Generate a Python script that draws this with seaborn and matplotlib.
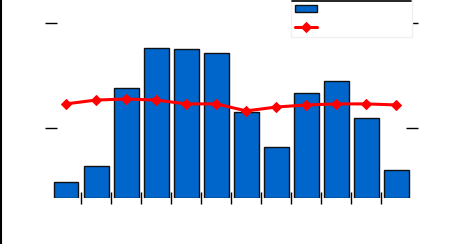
import numpy as np
import pandas as pd
import matplotlib
matplotlib.use("Agg")
import matplotlib.pyplot as plt
import seaborn as sns
from matplotlib.lines import Line2D

months = ["Jan", "Feb", "Mar", "Apr", "May", "Jun",
          "Jul", "Aug", "Sep", "Oct", "Nov", "Dec"]
rainfall = [23, 46, 157, 214, 213, 207, 123, 73, 150, 167, 114, 40]
temperature = [26.9, 28.0, 28.3, 28.0, 26.9, 26.9, 24.9, 26.0, 26.6, 26.9, 26.9, 26.6]
left_ticks = [100, 250]
right_ticks = [20, 50]

sns.set_theme(style="white")
plt.rcParams["font.family"] = ["DejaVu Sans"]

df = pd.DataFrame({"month": months, "rainfall": rainfall,
                   "temperature": temperature, "pos": np.arange(len(months))})

fig = plt.figure(figsize=(4.6, 2.44), dpi=100)
ax = fig.add_axes([51 / 460, 46 / 244, 360.5 / 460, 198 / 244])

sns.barplot(data=df, x="month", y="rainfall", color="#0066cc", saturation=1,
            width=0.83, edgecolor="#111111", linewidth=1, ax=ax,
            label="Rainfall (mm)")
ax.set_xlim(-0.5, 11.5)
ax.set_ylim(0, 283)
if ax.get_legend() is not None:
    ax.get_legend().remove()

ax2 = ax.twinx()
sns.lineplot(data=df, x="pos", y="temperature", color="#ff0000", linewidth=2.2,
             marker="D", markersize=5.5, markeredgecolor="#ff0000", ax=ax2,
             label="Temperature (°C)", legend=False)
ax2.set_ylim(0, 283 / 5)
ax2.set_xlim(-0.5, 11.5)
if ax2.get_legend() is not None:
    ax2.get_legend().remove()

white = "white"
for a in (ax, ax2):
    for s in a.spines.values():
        s.set_visible(False)
    a.grid(False)

# category separators as major ticks, month names as minor labels
ax.set_xticks(np.arange(len(months) - 1) + 0.5)
ax.set_xticklabels([""] * (len(months) - 1))
ax.set_xticks(np.arange(len(months)), minor=True)
ax.set_xticklabels(months, minor=True, color=white, fontsize=8)
ax.tick_params(axis="x", which="major", direction="inout", length=8, width=1,
               color="black", bottom=True)
ax.tick_params(axis="x", which="minor", length=0, bottom=True)

ax.set_yticks(left_ticks)
ax.set_yticklabels([str(v) for v in left_ticks], color=white, fontsize=8)
ax.tick_params(axis="y", direction="inout", length=8, width=1, color="black", left=True)
ax2.set_yticks(right_ticks)
ax2.set_yticklabels([str(v) for v in right_ticks], color=white, fontsize=8)
ax2.tick_params(axis="y", direction="inout", length=8, width=1, color="black", right=True)

ax.set_xlabel("Month", color=white, fontsize=9)
ax.set_ylabel("Rainfall (mm)", color=white, fontsize=9)
ax2.set_ylabel("Temperature (°C)", color=white, fontsize=9)

h1, l1 = ax.get_legend_handles_labels()
h2, l2 = ax2.get_legend_handles_labels()
leg = ax2.legend(h1 + h2, l1 + l2, loc="upper right", borderaxespad=0,
                 frameon=True, fancybox=False, fontsize=7.2, framealpha=1,
                 handlelength=2.2, handleheight=0.7, labelspacing=0.85,
                 labelcolor=white, borderpad=0.4, handletextpad=0.45,
                 facecolor="white")
leg.get_frame().set_edgecolor("#f0f0f0")
leg.get_frame().set_linewidth(1)
leg.set_zorder(2)
fig.add_artist(Line2D([292 / 460, 411 / 460], [1 - 0.5 / 244, 1 - 0.5 / 244],
                      color="black", linewidth=1.2, transform=fig.transFigure))
fig.add_artist(Line2D([0.5 / 460, 0.5 / 460], [0, 1], color="black",
                      linewidth=1.5, transform=fig.transFigure))

fig.savefig("out.png", dpi=100, facecolor="white")
